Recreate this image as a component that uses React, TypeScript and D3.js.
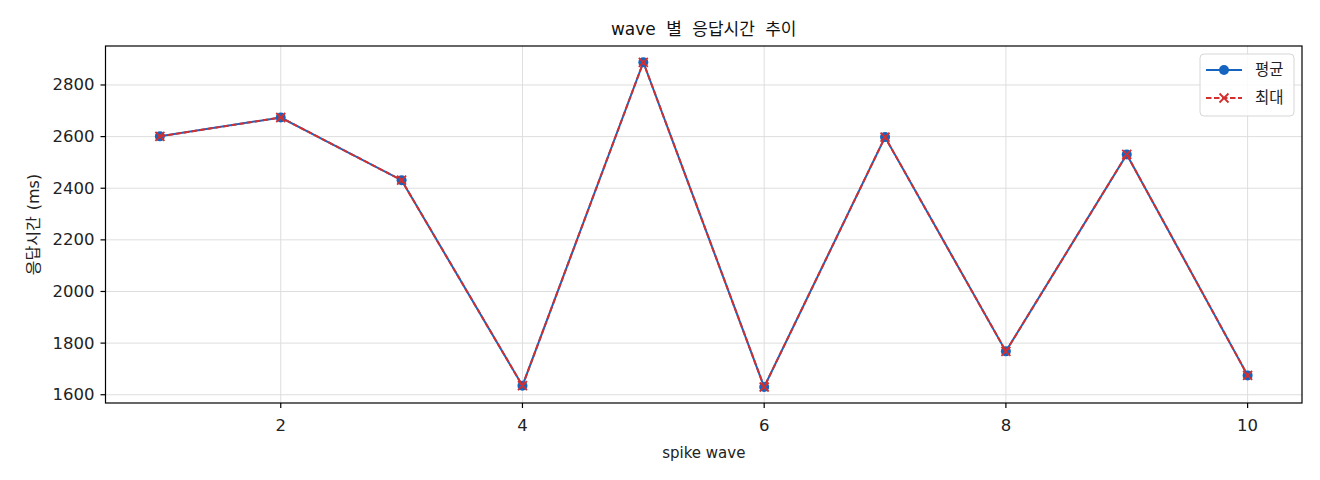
import * as d3 from 'd3';

const waves = [1, 2, 3, 4, 5, 6, 7, 8, 9, 10];
const avgMs = [2601, 2674, 2431, 1635, 2888, 1630, 2598, 1768, 2531, 1675];
const maxMs = [2601, 2674, 2431, 1635, 2888, 1630, 2598, 1768, 2531, 1675];
const xTicks = [2, 4, 6, 8, 10];
const yTicks = [1600, 1800, 2000, 2200, 2400, 2600, 2800];

const BLUE = '#1565c0';
const RED = '#d32f2f';
const FONT = '"DejaVu Sans", "Noto Sans CJK KR", sans-serif';

export default function App() {
  const W = 1320;
  const H = 480;
  const margin = { top: 46, right: 18, bottom: 77, left: 105.5 };
  const innerW = W - margin.left - margin.right;
  const innerH = H - margin.top - margin.bottom;

  const x = d3.scaleLinear().domain([0.55, 10.45]).range([0, innerW]);
  const y = d3.scaleLinear().domain([1568, 2951]).range([innerH, 0]);

  const line = d3.line<number>()
    .x((_, i) => x(waves[i]))
    .y((d) => y(d));

  return (
    <svg width={W} height={H} style={{ display: 'block', position: 'absolute', left: 0, top: 0 }} fontFamily={FONT}>
      <rect width={W} height={H} fill="#fff" />
      <text x={margin.left + innerW / 2} y={35} textAnchor="middle" fontSize={17} wordSpacing={5} fill="#111">
        wave 별 응답시간 추이
      </text>
      <g transform={`translate(${margin.left},${margin.top})`}>
        {/* grid */}
        {xTicks.map((t) => (
          <line key={`gx${t}`} x1={x(t)} x2={x(t)} y1={0} y2={innerH} stroke="#dedede" strokeWidth={1} />
        ))}
        {yTicks.map((t) => (
          <line key={`gy${t}`} x1={0} x2={innerW} y1={y(t)} y2={y(t)} stroke="#dedede" strokeWidth={1} />
        ))}

        {/* 평균 */}
        <path d={line(avgMs) ?? ''} fill="none" stroke={BLUE} strokeWidth={2} />
        {avgMs.map((v, i) => (
          <circle key={`a${i}`} cx={x(waves[i])} cy={y(v)} r={5} fill={BLUE} />
        ))}

        {/* 최대 */}
        <path d={line(maxMs) ?? ''} fill="none" stroke={RED} strokeWidth={2} strokeDasharray="5.5,2.5" />
        {maxMs.map((v, i) => {
          const cx = x(waves[i]);
          const cy = y(v);
          const s = 4.5;
          return (
            <path key={`m${i}`} d={`M${cx - s},${cy - s}L${cx + s},${cy + s}M${cx - s},${cy + s}L${cx + s},${cy - s}`} stroke={RED} strokeWidth={1.8} />
          );
        })}

        {/* axes frame */}
        <rect x={0} y={0} width={innerW} height={innerH} fill="none" stroke="#000" strokeWidth={1.2} />

        {xTicks.map((t) => (
          <g key={`xt${t}`}>
            <line x1={x(t)} x2={x(t)} y1={innerH} y2={innerH + 5} stroke="#000" strokeWidth={1.2} />
            <text x={x(t)} y={innerH + 28} textAnchor="middle" fontSize={16.5} fill="#222">{t}</text>
          </g>
        ))}
        {yTicks.map((t) => (
          <g key={`yt${t}`}>
            <line x1={-5} x2={0} y1={y(t)} y2={y(t)} stroke="#000" strokeWidth={1.2} />
            <text x={-11} y={y(t)} textAnchor="end" dominantBaseline="central" fontSize={16.5} fill="#222">{t}</text>
          </g>
        ))}

        <text x={innerW / 2} y={innerH + 55} textAnchor="middle" fontSize={15} fill="#222">spike wave</text>
        <text transform={`translate(${-67},${innerH / 2}) rotate(-90)`} textAnchor="middle" fontSize={16} wordSpacing={1} fill="#222">
          응답시간 (ms)
        </text>

        {/* legend */}
        <g transform={`translate(${innerW - 102},8)`}>
          <rect x={0} y={0} width={94} height={62} rx={4} fill="#fff" fillOpacity={0.85} stroke="#d6d6d6" />
          <line x1={6} x2={42} y1={16} y2={16} stroke={BLUE} strokeWidth={2} />
          <circle cx={24} cy={16} r={5} fill={BLUE} />
          <text x={55} y={16} dominantBaseline="central" fontSize={15.5} fill="#222">평균</text>
          <line x1={6} x2={42} y1={44} y2={44} stroke={RED} strokeWidth={2} strokeDasharray="5.5,2.5" />
          <path d="M19.5,39.5L28.5,48.5M19.5,48.5L28.5,39.5" stroke={RED} strokeWidth={1.8} />
          <text x={55} y={44} dominantBaseline="central" fontSize={15.5} fill="#222">최대</text>
        </g>
      </g>
    </svg>
  );
}
